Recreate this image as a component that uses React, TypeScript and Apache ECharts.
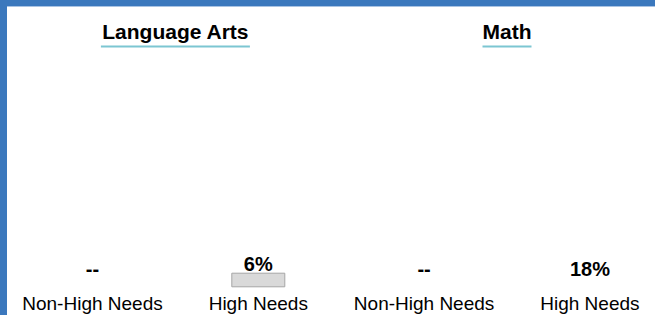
import React, { useEffect, useRef } from "react";
import * as echarts from "echarts";

const categories = ["Non-High Needs", "High Needs"];
const subjects = ["Language Arts", "Math"];
// values in percent; null = no data ("--")
const languageArtsValues: (number | null)[] = [null, 6];
const mathValues: (number | null)[] = [null, 18];
// the reference draws a bar only for Language Arts / High Needs
const languageArtsBars: (number | null)[] = [null, 6];
const mathBars: (number | null)[] = [null, null];

const FONT = "'Liberation Sans', Arial, sans-serif";
const LABEL_LEVEL = 7.5;

function fmt(v: number | null) {
  return v == null ? "--" : v + "%";
}

export default function App() {
  const ref = useRef<HTMLDivElement>(null);
  useEffect(() => {
    if (!ref.current) return;
    const chart = echarts.init(ref.current, null, { renderer: "svg" });
    const gridW = 331.6;
    const grids = [
      { left: 9.6, top: 44, width: gridW, bottom: 27.7 },
      { left: 9.6 + gridW, top: 44, width: gridW, bottom: 27.7 },
    ];
    const allValues = [languageArtsValues, mathValues];
    const allBars = [languageArtsBars, mathBars];
    const xAxis = grids.map((_, i) => ({
      type: "category",
      gridIndex: i,
      data: categories,
      axisLine: { show: false },
      axisTick: { show: false },
      axisLabel: { fontSize: 19, color: "#000", fontFamily: FONT, margin: 7, interval: 0 },
    }));
    const yAxis = grids.map((_, i) => ({
      type: "value",
      gridIndex: i,
      min: 0,
      max: 100,
      show: false,
      splitLine: { show: false },
    }));
    const series: any[] = [];
    grids.forEach((_, i) => {
      series.push({
        type: "bar",
        xAxisIndex: i,
        yAxisIndex: i,
        barWidth: 54,
        data: allBars[i],
        itemStyle: { color: "#d9d9d9", borderColor: "#a6a6a6", borderWidth: 1 },
        label: {
          show: true,
          position: "top",
          distance: -1,
          formatter: (p: any) => fmt(p.value),
          fontSize: 20,
          fontWeight: "bold",
          color: "#000",
          fontFamily: FONT,
        },
      });
      const labelData = categories
        .map((c, j) => (allBars[i][j] == null ? { value: [c, LABEL_LEVEL], text: fmt(allValues[i][j]) } : null))
        .filter((d) => d != null);
      series.push({
        type: "scatter",
        xAxisIndex: i,
        yAxisIndex: i,
        symbolSize: 0,
        data: labelData,
        itemStyle: { opacity: 1 },
        label: {
          show: true,
          position: "inside",
          formatter: (p: any) => p.data.text,
          fontSize: 20,
          fontWeight: "bold",
          color: "#000",
          fontFamily: FONT,
        },
      });
    });
    const titleCenters = [grids[0].left + gridW / 2, grids[1].left + gridW / 2];
    const graphic: any[] = [
      { type: "rect", shape: { x: 0, y: 0, width: 680, height: 6 }, style: { fill: "#3b78bd" } },
      { type: "rect", shape: { x: 0, y: 6, width: 680, height: 1 }, style: { fill: "#a9c3e3" } },
      { type: "rect", shape: { x: 0, y: 0, width: 7, height: 315 }, style: { fill: "#3b78bd" } },
    ];
    const titleWidths = [149, 49];
    subjects.forEach((s, i) => {
      graphic.push({
        type: "text",
        x: titleCenters[i],
        y: 31,
        style: {
          text: s,
          fill: "#000",
          font: `bold 21px ${FONT}`,
          textAlign: "center",
          textVerticalAlign: "middle",
        },
      });
      graphic.push({
        type: "rect",
        shape: { x: titleCenters[i] - titleWidths[i] / 2, y: 45.5, width: titleWidths[i], height: 2 },
        style: { fill: "#7cc6d2" },
      });
    });
    chart.setOption({
      animation: false,
      grid: grids,
      xAxis,
      yAxis,
      series,
      graphic,
    });
    return () => chart.dispose();
  }, []);
  return (
    <div
      style={{ position: "absolute", left: 0, top: 0, width: 655, height: 315, overflow: "hidden", background: "#fff" }}
    >
      <div ref={ref} style={{ width: 680, height: 315 }} />
    </div>
  );
}
